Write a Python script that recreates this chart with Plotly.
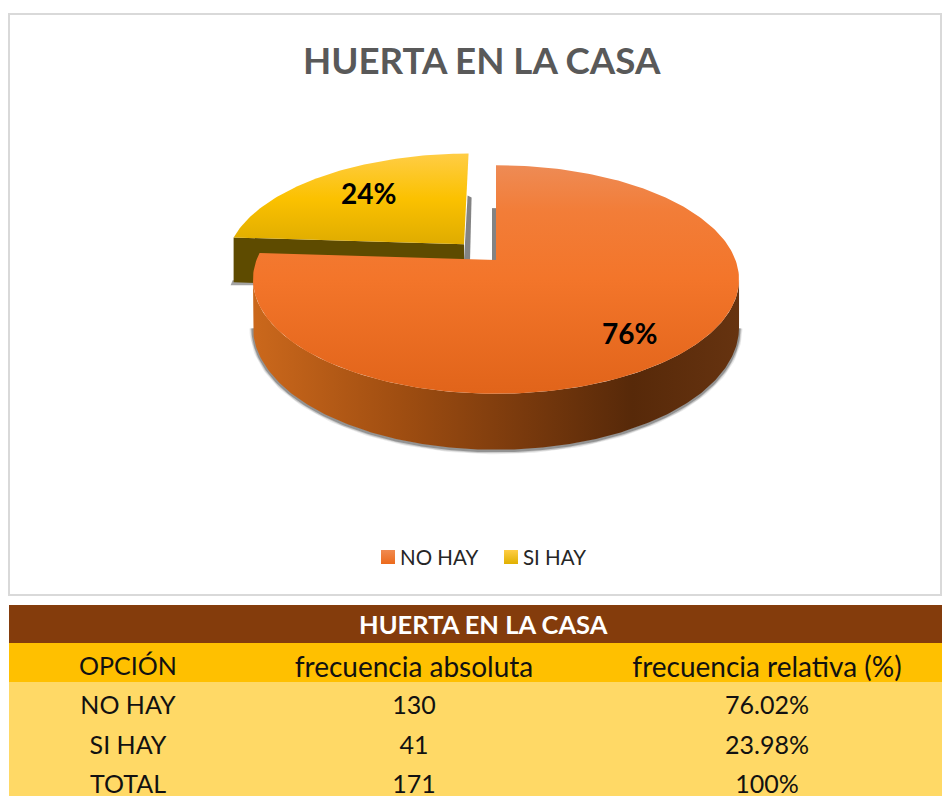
import numpy as np
import plotly.graph_objects as go

# ---- data ----
TITLE = "HUERTA EN LA CASA"
categories = ["NO HAY", "SI HAY"]
frequencies = [130, 41]
relative_labels = ["76.02%", "23.98%"]
total_label = "TOTAL"
total_value = 171
total_relative = "100%"
column_names = ["OPCIÓN", "frecuencia absoluta", "frecuencia relativa (%)"]

FONT = "Lato, Carlito, Calibri, sans-serif"
W, H = 942, 796

# ---- perspective projection of a tilted disc onto the page ----
CX, CY, A, B, K = 496.0, 260.0, 239.5, 111.0, 0.17
DEPTH = 46.5


def project(u, v, z=0.0):
    w = 1 + K * np.asarray(v)
    return CX + A * np.asarray(u) / w, CY + (-B * np.asarray(v) + z * DEPTH) / w


shares = np.array(frequencies, dtype=float) / sum(frequencies)
t0, t1 = 0.0, shares[0] * 2 * np.pi
th_o = np.linspace(t0, t1, 240)
th_y = np.linspace(t1, 2 * np.pi, 100)
mid = (t1 + 2 * np.pi) / 2
EXPLODE = 0.2
ou, ov = EXPLODE * np.sin(mid), EXPLODE * np.cos(mid)

fig = go.Figure()


def poly(x, y, color=None, grad=None, gtype="vertical"):
    kw = dict(x=list(x), y=list(y), mode="lines", line=dict(width=0), fill="toself",
              hoverinfo="skip", showlegend=False)
    if grad:
        kw["fillgradient"] = dict(type=gtype, colorscale=grad)
    else:
        kw["fillcolor"] = color
    fig.add_trace(go.Scatter(**kw))


# ---- outer wall curve of the big slice (right extreme -> front -> left extreme) ----
ext_r = np.pi - np.arccos(K)
ext_l = 2 * np.pi - ext_r
th_w = np.linspace(ext_r, min(ext_l, t1), 200)
xt, yt = project(np.sin(th_w), np.cos(th_w))
xb, yb = project(np.sin(th_w), np.cos(th_w), 1.0)

# soft shadow under the big slice
for lw, alpha, dy in [(7, 0.10, 1), (5, 0.18, 1), (3, 0.35, 1)]:
    fig.add_trace(go.Scatter(x=list(xb), y=list(yb + dy), mode="lines", hoverinfo="skip", showlegend=False,
                             line=dict(color=f"rgba(50,50,50,{alpha})", width=lw)))

# ---- small (exploded) slice ----
tip_u, tip_v = np.sin(th_y) + ou, np.cos(th_y) + ov
yx, yy = project(tip_u, tip_v)
ax_y, ay_y = project(ou, ov)
lx, ly = project(np.sin(t1) + ou, np.cos(t1) + ov)
lbx, lby = project(np.sin(t1) + ou, np.cos(t1) + ov, 1.0)
abx, aby = project(ou, ov, 1.0)
rtx, rty = project(ou, 1 + ov)

# shadows
poly([ax_y, rtx - 1, rtx + 3, ax_y + 6], [ay_y + 16, rty + 42, rty + 44, ay_y + 16], color="rgba(90,90,90,0.75)")
poly([lbx - 3, lbx + 22, lbx + 22, lbx - 1], [lby + 3, lby + 3, lby - 2, lby - 2], color="rgba(90,90,90,0.55)")

# yellow wall
poly([lx, ax_y, abx, lbx], [ly, ay_y, aby, lby], color="#5E4B00")
# yellow face
poly(list(yx) + [ax_y], list(yy) + [ay_y],
     grad=[[0, "#DFAC00"], [0.5, "#FBC100"], [1, "#FFCD45"]])

# ---- big slice ----
ox, oy = project(np.sin(th_o), np.cos(th_o))
ax0, ay0 = project(0.0, 0.0)
# shadow of the rear wall next to the cut
poly([ox[0] - 4, ox[0], ax0, ax0 - 4], [oy[0] + 43, oy[0] + 43, ay0, ay0], color="rgba(90,90,90,0.75)")
# wall
poly(list(xt) + list(xb[::-1]), list(yt) + list(yb[::-1]),
     grad=[[0, "#CB681C"], [0.3, "#A04E11"], [0.55, "#7A3A0D"], [0.78, "#572909"], [1, "#663310"]],
     gtype="horizontal")
# face
poly(list(ox) + [ax0], list(oy) + [ay0],
     grad=[[0, "#E1641A"], [0.5, "#F3752A"], [0.8, "#F27D38"], [1, "#EE8B55"]])

# ---- legend swatches ----
fig.add_trace(go.Scatter(x=[388, 511], y=[557, 557], mode="markers", hoverinfo="skip", showlegend=False,
                         marker=dict(symbol="square", size=14, line=dict(width=0),
                                     color=["#F08A50", "#FFCD45"],
                                     gradient=dict(type="vertical", color=["#EC6A1C", "#E0B000"]))))

# ---- table ----
table_rows = [
    [categories[0], str(frequencies[0]), relative_labels[0]],
    [categories[1], str(frequencies[1]), relative_labels[1]],
    [total_label, str(total_value), total_relative],
]
cols = [list(c) for c in zip(*table_rows)]
clear = "rgba(0,0,0,0)"
fig.add_trace(go.Table(
    domain=dict(x=[20 / W, 1], y=[0, (H - 648) / H]),
    columnwidth=[216, 356, 350],
    header=dict(values=column_names, height=39.5, align="center", fill_color=clear, line_color=clear, line_width=0,
                font=dict(family=FONT, size=[25, 28, 28], color="#111111")),
    cells=dict(values=cols, height=39.5, align="center",
               fill_color=clear, line_color=clear, line_width=0,
               font=dict(family=FONT, size=25, color="#111111")),
))

# ---- text ----
ann = []


def label(x, y, text, size, color="black", bold=False):
    ann.append(dict(x=x, y=y, xref="x", yref="y", text=f"<b>{text}</b>" if bold else text, showarrow=False,
                    xanchor="center", yanchor="middle", font=dict(family=FONT, size=size, color=color)))


label(482, 60, TITLE, 36.7, "#595959", True)
label(368, 193, f"{round(shares[1]*100)}%", 28, bold=True)
label(629, 333, f"{round(shares[0]*100)}%", 28, bold=True)
label(439, 557, categories[0], 20.5, "#262626")
label(554, 557, categories[1], 20.5, "#262626")
label(483, 624, TITLE, 25.5, "white", True)

bands = [(605, 643, "#843C0C"), (643, 682, "#FFC000"), (682, H, "#FFD966")]
shapes = [dict(type="rect", xref="x", yref="y", x0=9, y0=14, x1=941, y1=595,
               line=dict(color="#D9D9D9", width=2), layer="below")]
for top, bottom, colour in bands:
    shapes.append(dict(type="rect", xref="x", yref="y", x0=9, y0=top, x1=W, y1=bottom,
                       fillcolor=colour, line=dict(width=0), layer="below"))

fig.update_layout(
    width=W, height=H, margin=dict(l=0, r=0, t=0, b=0),
    paper_bgcolor="white", plot_bgcolor="rgba(0,0,0,0)", showlegend=False,
    xaxis=dict(range=[0, W], visible=False, fixedrange=True),
    yaxis=dict(range=[H, 0], visible=False, fixedrange=True),
    annotations=ann,
    shapes=shapes,
)
fig.write_html("out.html", config={"displayModeBar": False},
               post_script="document.body.style.margin='0';document.body.style.overflow='hidden';")
